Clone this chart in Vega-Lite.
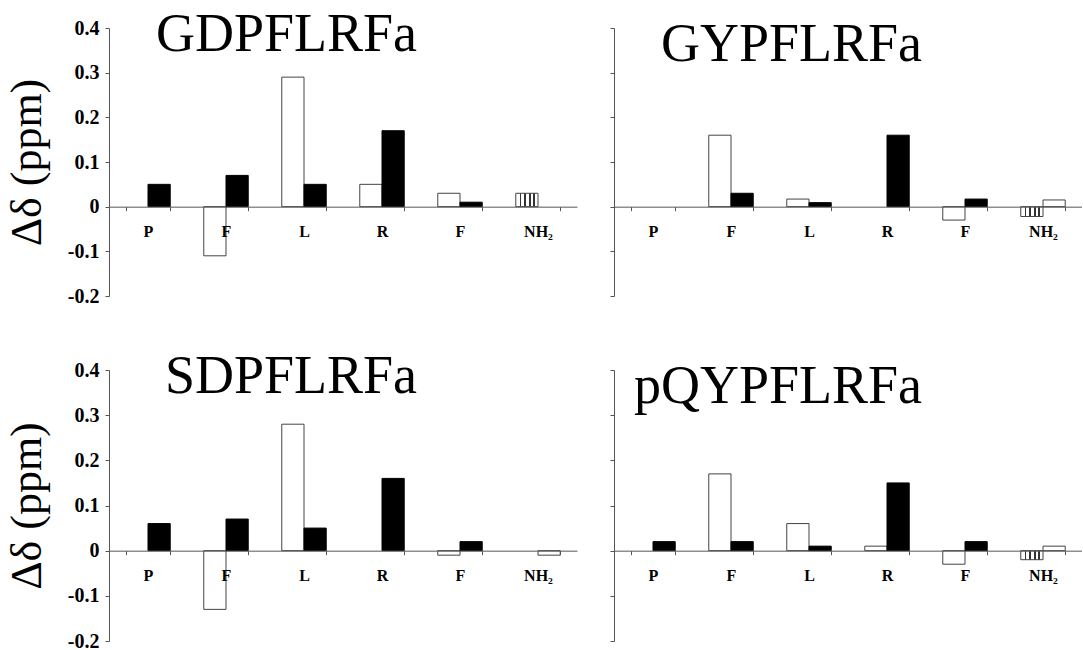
{
  "$schema": "https://vega.github.io/schema/vega-lite/v6.json",
  "background": "white",
  "padding": {"left": 5, "top": 8, "right": 0, "bottom": 0},
  "autosize": {"type": "pad"},
  "data": {"values": [
    {"peptide": "GDPFLRFa", "residue": "P3", "proton": "Hα", "value": 0.05},
    {"peptide": "GDPFLRFa", "residue": "F4", "proton": "NH", "value": -0.11},
    {"peptide": "GDPFLRFa", "residue": "F4", "proton": "Hα", "value": 0.07},
    {"peptide": "GDPFLRFa", "residue": "L5", "proton": "NH", "value": 0.29},
    {"peptide": "GDPFLRFa", "residue": "L5", "proton": "Hα", "value": 0.05},
    {"peptide": "GDPFLRFa", "residue": "R6", "proton": "NH", "value": 0.05},
    {"peptide": "GDPFLRFa", "residue": "R6", "proton": "Hα", "value": 0.17},
    {"peptide": "GDPFLRFa", "residue": "F7", "proton": "NH", "value": 0.03},
    {"peptide": "GDPFLRFa", "residue": "F7", "proton": "Hα", "value": 0.01},
    {"peptide": "GDPFLRFa", "residue": "NH₂", "proton": "NH₂ (a)", "value": 0.03},
    {"peptide": "GYPFLRFa", "residue": "F4", "proton": "NH", "value": 0.16},
    {"peptide": "GYPFLRFa", "residue": "F4", "proton": "Hα", "value": 0.03},
    {"peptide": "GYPFLRFa", "residue": "L5", "proton": "NH", "value": 0.017},
    {"peptide": "GYPFLRFa", "residue": "L5", "proton": "Hα", "value": 0.009},
    {"peptide": "GYPFLRFa", "residue": "R6", "proton": "Hα", "value": 0.16},
    {"peptide": "GYPFLRFa", "residue": "F7", "proton": "NH", "value": -0.03},
    {"peptide": "GYPFLRFa", "residue": "F7", "proton": "Hα", "value": 0.017},
    {"peptide": "GYPFLRFa", "residue": "NH₂", "proton": "NH₂ (a)", "value": -0.022},
    {"peptide": "GYPFLRFa", "residue": "NH₂", "proton": "NH₂ (b)", "value": 0.015},
    {"peptide": "SDPFLRFa", "residue": "P3", "proton": "Hα", "value": 0.06},
    {"peptide": "SDPFLRFa", "residue": "F4", "proton": "NH", "value": -0.13},
    {"peptide": "SDPFLRFa", "residue": "F4", "proton": "Hα", "value": 0.07},
    {"peptide": "SDPFLRFa", "residue": "L5", "proton": "NH", "value": 0.28},
    {"peptide": "SDPFLRFa", "residue": "L5", "proton": "Hα", "value": 0.05},
    {"peptide": "SDPFLRFa", "residue": "R6", "proton": "Hα", "value": 0.16},
    {"peptide": "SDPFLRFa", "residue": "F7", "proton": "NH", "value": -0.01},
    {"peptide": "SDPFLRFa", "residue": "F7", "proton": "Hα", "value": 0.02},
    {"peptide": "SDPFLRFa", "residue": "NH₂", "proton": "NH₂ (b)", "value": -0.01},
    {"peptide": "pQYPFLRFa", "residue": "P3", "proton": "Hα", "value": 0.02},
    {"peptide": "pQYPFLRFa", "residue": "F4", "proton": "NH", "value": 0.17},
    {"peptide": "pQYPFLRFa", "residue": "F4", "proton": "Hα", "value": 0.02},
    {"peptide": "pQYPFLRFa", "residue": "L5", "proton": "NH", "value": 0.06},
    {"peptide": "pQYPFLRFa", "residue": "L5", "proton": "Hα", "value": 0.01},
    {"peptide": "pQYPFLRFa", "residue": "R6", "proton": "NH", "value": 0.01},
    {"peptide": "pQYPFLRFa", "residue": "R6", "proton": "Hα", "value": 0.15},
    {"peptide": "pQYPFLRFa", "residue": "F7", "proton": "NH", "value": -0.03},
    {"peptide": "pQYPFLRFa", "residue": "F7", "proton": "Hα", "value": 0.02},
    {"peptide": "pQYPFLRFa", "residue": "NH₂", "proton": "NH₂ (a)", "value": -0.02},
    {"peptide": "pQYPFLRFa", "residue": "NH₂", "proton": "NH₂ (b)", "value": 0.01}
  ]},
  "columns": 2,
  "spacing": {"row": 74, "column": 37},
  "bounds": "flush",
  "align": {"row": "each", "column": "all"},
  "concat": [
    {
      "width": 468, "height": 268,
      "title": {"text": "GDPFLRFa"},
      "transform": [{"filter": "datum.peptide == 'GDPFLRFa'"}],
      "encoding": {
        "x": {"field": "residue", "type": "nominal", "scale": {"domain": ["P3", "F4", "L5", "R6", "F7", "NH₂"], "paddingInner": 0.43, "paddingOuter": 0.215}, "axis": {"orient": "bottom", "zindex": 1, "offset": -89.33, "title": null, "labelExpr": "datum.value == null ? '' : (datum.value == 'NH₂' ? 'NH₂' : substring(datum.value, 0, 1))"}},
        "y": {"field": "value", "type": "quantitative", "scale": {"domain": [-0.2, 0.4], "nice": false}, "axis": {"title": "Δδ (ppm)", "values": [-0.2, -0.1, 0, 0.1, 0.2, 0.3, 0.4], "labelExpr": "datum.value == 0 ? '0' : (datum.value < 0 ? '-' + format(-datum.value, '.1f') : format(datum.value, '.1f'))"}}
      },
      "layer": [
        {"transform": [{"filter": "datum.proton == 'NH'"}], "mark": {"type": "bar", "fill": "white", "stroke": "#444", "strokeWidth": 1}, "encoding": {"xOffset": {"field": "proton", "scale": {"domain": ["NH", "Hα"], "paddingInner": 0, "paddingOuter": 0}}}},
        {"transform": [{"filter": "datum.proton == 'Hα'"}], "mark": {"type": "bar", "fill": "black", "stroke": "black", "strokeWidth": 1}, "encoding": {"xOffset": {"field": "proton"}}},
        {"transform": [{"filter": "datum.proton == 'NH₂ (a)'"}], "mark": {"type": "bar", "stroke": "#444", "strokeWidth": 1, "fill": {"gradient": "linear", "x1": 0, "y1": 0, "x2": 1, "y2": 0, "stops": [{"offset": 0, "color": "white"}, {"offset": 0.17, "color": "white"}, {"offset": 0.17, "color": "#333"}, {"offset": 0.24, "color": "#333"}, {"offset": 0.24, "color": "white"}, {"offset": 0.39, "color": "white"}, {"offset": 0.39, "color": "#333"}, {"offset": 0.46, "color": "#333"}, {"offset": 0.46, "color": "white"}, {"offset": 0.61, "color": "white"}, {"offset": 0.61, "color": "#333"}, {"offset": 0.68, "color": "#333"}, {"offset": 0.68, "color": "white"}, {"offset": 0.78, "color": "white"}, {"offset": 0.78, "color": "#333"}, {"offset": 0.85, "color": "#333"}, {"offset": 0.85, "color": "white"}, {"offset": 1, "color": "white"}]}}, "encoding": {"xOffset": {"datum": "NH"}}},
        {"transform": [{"filter": "datum.proton == 'NH₂ (b)'"}], "mark": {"type": "bar", "fill": "white", "stroke": "#444", "strokeWidth": 1}, "encoding": {"xOffset": {"datum": "Hα"}}}
      ]
    },
    {
      "width": 468, "height": 268,
      "title": {"text": "GYPFLRFa"},
      "transform": [{"filter": "datum.peptide == 'GYPFLRFa'"}],
      "encoding": {
        "x": {"field": "residue", "type": "nominal", "scale": {"domain": ["P3", "F4", "L5", "R6", "F7", "NH₂"], "paddingInner": 0.43, "paddingOuter": 0.215}, "axis": {"orient": "bottom", "zindex": 1, "offset": -89.33, "title": null, "labelExpr": "datum.value == null ? '' : (datum.value == 'NH₂' ? 'NH₂' : substring(datum.value, 0, 1))"}},
        "y": {"field": "value", "type": "quantitative", "scale": {"domain": [-0.2, 0.4], "nice": false}, "axis": {"title": null, "labels": false, "values": [-0.2, -0.1, 0, 0.1, 0.2, 0.3, 0.4]}}
      },
      "layer": [
        {"transform": [{"filter": "datum.proton == 'NH'"}], "mark": {"type": "bar", "fill": "white", "stroke": "#444", "strokeWidth": 1}, "encoding": {"xOffset": {"field": "proton", "scale": {"domain": ["NH", "Hα"], "paddingInner": 0, "paddingOuter": 0}}}},
        {"transform": [{"filter": "datum.proton == 'Hα'"}], "mark": {"type": "bar", "fill": "black", "stroke": "black", "strokeWidth": 1}, "encoding": {"xOffset": {"field": "proton"}}},
        {"transform": [{"filter": "datum.proton == 'NH₂ (a)'"}], "mark": {"type": "bar", "stroke": "#444", "strokeWidth": 1, "fill": {"gradient": "linear", "x1": 0, "y1": 0, "x2": 1, "y2": 0, "stops": [{"offset": 0, "color": "white"}, {"offset": 0.17, "color": "white"}, {"offset": 0.17, "color": "#333"}, {"offset": 0.24, "color": "#333"}, {"offset": 0.24, "color": "white"}, {"offset": 0.39, "color": "white"}, {"offset": 0.39, "color": "#333"}, {"offset": 0.46, "color": "#333"}, {"offset": 0.46, "color": "white"}, {"offset": 0.61, "color": "white"}, {"offset": 0.61, "color": "#333"}, {"offset": 0.68, "color": "#333"}, {"offset": 0.68, "color": "white"}, {"offset": 0.78, "color": "white"}, {"offset": 0.78, "color": "#333"}, {"offset": 0.85, "color": "#333"}, {"offset": 0.85, "color": "white"}, {"offset": 1, "color": "white"}]}}, "encoding": {"xOffset": {"datum": "NH"}}},
        {"transform": [{"filter": "datum.proton == 'NH₂ (b)'"}], "mark": {"type": "bar", "fill": "white", "stroke": "#444", "strokeWidth": 1}, "encoding": {"xOffset": {"datum": "Hα"}}}
      ]
    },
    {
      "width": 468, "height": 271,
      "title": {"text": "SDPFLRFa"},
      "transform": [{"filter": "datum.peptide == 'SDPFLRFa'"}],
      "encoding": {
        "x": {"field": "residue", "type": "nominal", "scale": {"domain": ["P3", "F4", "L5", "R6", "F7", "NH₂"], "paddingInner": 0.43, "paddingOuter": 0.215}, "axis": {"orient": "bottom", "zindex": 1, "offset": -90.33, "title": null, "labelExpr": "datum.value == null ? '' : (datum.value == 'NH₂' ? 'NH₂' : substring(datum.value, 0, 1))"}},
        "y": {"field": "value", "type": "quantitative", "scale": {"domain": [-0.2, 0.4], "nice": false}, "axis": {"title": "Δδ (ppm)", "values": [-0.2, -0.1, 0, 0.1, 0.2, 0.3, 0.4], "labelExpr": "datum.value == 0 ? '0' : (datum.value < 0 ? '-' + format(-datum.value, '.1f') : format(datum.value, '.1f'))"}}
      },
      "layer": [
        {"transform": [{"filter": "datum.proton == 'NH'"}], "mark": {"type": "bar", "fill": "white", "stroke": "#444", "strokeWidth": 1}, "encoding": {"xOffset": {"field": "proton", "scale": {"domain": ["NH", "Hα"], "paddingInner": 0, "paddingOuter": 0}}}},
        {"transform": [{"filter": "datum.proton == 'Hα'"}], "mark": {"type": "bar", "fill": "black", "stroke": "black", "strokeWidth": 1}, "encoding": {"xOffset": {"field": "proton"}}},
        {"transform": [{"filter": "datum.proton == 'NH₂ (a)'"}], "mark": {"type": "bar", "stroke": "#444", "strokeWidth": 1, "fill": {"gradient": "linear", "x1": 0, "y1": 0, "x2": 1, "y2": 0, "stops": [{"offset": 0, "color": "white"}, {"offset": 0.17, "color": "white"}, {"offset": 0.17, "color": "#333"}, {"offset": 0.24, "color": "#333"}, {"offset": 0.24, "color": "white"}, {"offset": 0.39, "color": "white"}, {"offset": 0.39, "color": "#333"}, {"offset": 0.46, "color": "#333"}, {"offset": 0.46, "color": "white"}, {"offset": 0.61, "color": "white"}, {"offset": 0.61, "color": "#333"}, {"offset": 0.68, "color": "#333"}, {"offset": 0.68, "color": "white"}, {"offset": 0.78, "color": "white"}, {"offset": 0.78, "color": "#333"}, {"offset": 0.85, "color": "#333"}, {"offset": 0.85, "color": "white"}, {"offset": 1, "color": "white"}]}}, "encoding": {"xOffset": {"datum": "NH"}}},
        {"transform": [{"filter": "datum.proton == 'NH₂ (b)'"}], "mark": {"type": "bar", "fill": "white", "stroke": "#444", "strokeWidth": 1}, "encoding": {"xOffset": {"datum": "Hα"}}}
      ]
    },
    {
      "width": 468, "height": 271,
      "title": {"text": "pQYPFLRFa"},
      "transform": [{"filter": "datum.peptide == 'pQYPFLRFa'"}],
      "encoding": {
        "x": {"field": "residue", "type": "nominal", "scale": {"domain": ["P3", "F4", "L5", "R6", "F7", "NH₂"], "paddingInner": 0.43, "paddingOuter": 0.215}, "axis": {"orient": "bottom", "zindex": 1, "offset": -90.33, "title": null, "labelExpr": "datum.value == null ? '' : (datum.value == 'NH₂' ? 'NH₂' : substring(datum.value, 0, 1))"}},
        "y": {"field": "value", "type": "quantitative", "scale": {"domain": [-0.2, 0.4], "nice": false}, "axis": {"title": null, "labels": false, "values": [-0.2, -0.1, 0, 0.1, 0.2, 0.3, 0.4]}}
      },
      "layer": [
        {"transform": [{"filter": "datum.proton == 'NH'"}], "mark": {"type": "bar", "fill": "white", "stroke": "#444", "strokeWidth": 1}, "encoding": {"xOffset": {"field": "proton", "scale": {"domain": ["NH", "Hα"], "paddingInner": 0, "paddingOuter": 0}}}},
        {"transform": [{"filter": "datum.proton == 'Hα'"}], "mark": {"type": "bar", "fill": "black", "stroke": "black", "strokeWidth": 1}, "encoding": {"xOffset": {"field": "proton"}}},
        {"transform": [{"filter": "datum.proton == 'NH₂ (a)'"}], "mark": {"type": "bar", "stroke": "#444", "strokeWidth": 1, "fill": {"gradient": "linear", "x1": 0, "y1": 0, "x2": 1, "y2": 0, "stops": [{"offset": 0, "color": "white"}, {"offset": 0.17, "color": "white"}, {"offset": 0.17, "color": "#333"}, {"offset": 0.24, "color": "#333"}, {"offset": 0.24, "color": "white"}, {"offset": 0.39, "color": "white"}, {"offset": 0.39, "color": "#333"}, {"offset": 0.46, "color": "#333"}, {"offset": 0.46, "color": "white"}, {"offset": 0.61, "color": "white"}, {"offset": 0.61, "color": "#333"}, {"offset": 0.68, "color": "#333"}, {"offset": 0.68, "color": "white"}, {"offset": 0.78, "color": "white"}, {"offset": 0.78, "color": "#333"}, {"offset": 0.85, "color": "#333"}, {"offset": 0.85, "color": "white"}, {"offset": 1, "color": "white"}]}}, "encoding": {"xOffset": {"datum": "NH"}}},
        {"transform": [{"filter": "datum.proton == 'NH₂ (b)'"}], "mark": {"type": "bar", "fill": "white", "stroke": "#444", "strokeWidth": 1}, "encoding": {"xOffset": {"datum": "Hα"}}}
      ]
    }
  ],
  "config": {
    "view": {"stroke": null},
    "title": {"font": "Liberation Serif", "fontSize": 54, "fontWeight": "normal", "color": "black", "anchor": "end", "frame": "group", "baseline": "alphabetic", "offset": 0, "dx": -160, "dy": 48},
    "axis": {"domainColor": "#555", "tickColor": "#555", "grid": false, "labelColor": "black", "titleColor": "black", "labelFont": "Liberation Serif", "titleFont": "Liberation Serif"},
    "axisX": {"tickSize": 4, "tickBand": "extent", "labelFontSize": 16, "labelFontWeight": "bold", "labelPadding": 13, "labelAngle": 0},
    "axisY": {"tickSize": 4, "labelFontSize": 20, "labelFontWeight": "bold", "labelPadding": 6, "titleFontSize": 44, "titleFontWeight": "normal", "titlePadding": 18}
  }
}
